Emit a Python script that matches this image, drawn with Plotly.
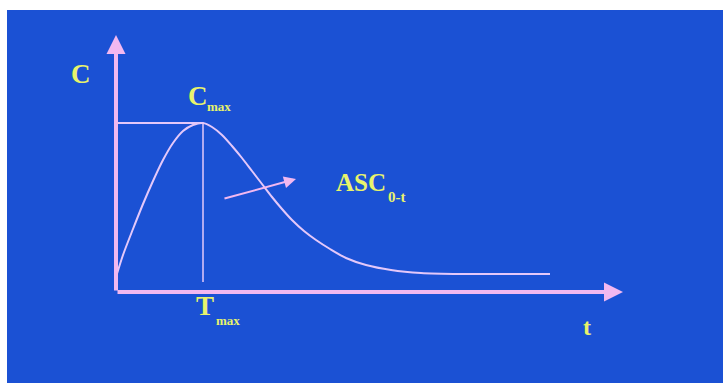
import plotly.graph_objects as go

# concentration-time curve (t and C in arbitrary units)
t_curve = [0, 7, 17, 27, 37, 47, 57, 67, 77, 87, 96, 106, 116, 126, 136, 146, 156, 166,
           176, 188, 200, 214, 230, 250, 275, 305, 345, 390, 434]
c_curve = [15, 37, 63, 88, 111, 132, 149, 161, 167, 169, 165, 157, 146, 134, 121, 108, 95, 83,
           72, 61, 52, 43, 34, 27, 22, 19, 18, 18, 18]

t_max = 87
c_max = 169
t_axis_end = 507
c_axis_end = 257

BLUE = "#1b51d4"
PINK = "#f2b8f0"
CURVE = "#e4c8fa"
YELLOW = "#e8f36c"
FONT = "Liberation Serif"

fig = go.Figure()

# Cmax / Tmax guide lines
fig.add_trace(go.Scatter(
    x=[0, t_max], y=[c_max, c_max], mode="lines",
    line=dict(color=CURVE, width=2), hoverinfo="skip"))
fig.add_trace(go.Scatter(
    x=[t_max, t_max], y=[c_max, 10], mode="lines",
    line=dict(color=CURVE, width=1.5), hoverinfo="skip"))

# the curve
fig.add_trace(go.Scatter(
    x=t_curve, y=c_curve, mode="lines",
    line=dict(color=CURVE, width=2, shape="spline", smoothing=0.8),
    hoverinfo="skip"))


def arrow(x0, y0, x1, y1, width, size):
    fig.add_annotation(
        x=x1, y=y1, ax=x0, ay=y0, xref="x", yref="y", axref="x", ayref="y",
        text="", showarrow=True, arrowhead=2, arrowwidth=width,
        arrowsize=size, arrowcolor=PINK)


# axes with arrow heads
arrow(0, 0, 0, c_axis_end, 4, 0.95)
arrow(0, 0, t_axis_end, 0, 4, 0.95)
# area pointer
arrow(107, 93, 180, 113, 2, 1.2)


def label(txt, x, y, size):
    fig.add_annotation(
        x=x, y=y, xref="x", yref="y", text=txt, showarrow=False,
        font=dict(family=FONT, size=size, color=YELLOW))


label("<b>C</b>", -35, 218, 27)
label("<b>C</b>", 82, 196, 27)
label("<b>max</b>", 103, 186, 13)
label("<b>T</b>", 89, -14, 27)
label("<b>max</b>", 112, -28, 13)
label("<b>ASC</b>", 245, 110, 25)
label("<b>0-t</b>", 281, 95, 15)
label("<b>t</b>", 471, -35, 24)

fig.update_layout(
    width=723, height=383,
    margin=dict(l=7, r=0, t=10, b=0),
    paper_bgcolor="white",
    plot_bgcolor=BLUE,
    showlegend=False,
    xaxis=dict(range=[-109, 607], visible=False, fixedrange=True),
    yaxis=dict(range=[-91, 282], visible=False, fixedrange=True),
)

# drop the browser's default page margin so the figure sits at 0,0
fig.write_html("out.html", config={"displayModeBar": False},
               post_script="document.body.style.margin='0';")
